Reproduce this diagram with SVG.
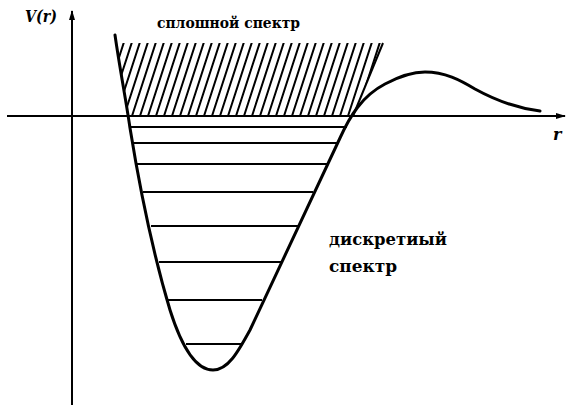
<svg xmlns="http://www.w3.org/2000/svg" width="567" height="411" viewBox="0 0 567 411">
<style>
.axis{stroke:#000;stroke-width:2;fill:none}
.curve{stroke:#000;stroke-width:3;fill:none;stroke-linejoin:round;stroke-linecap:round}
.level{stroke:#000;stroke-width:2;fill:none}
.hatch{stroke:#000;stroke-width:2;fill:none}
.lbl{font-family:"DejaVu Serif","Liberation Serif",serif;font-weight:bold;fill:#000}
.it{font-style:italic}
</style>
<defs>
<marker id="arr" markerWidth="10" markerHeight="8" refX="9" refY="4" orient="auto" markerUnits="userSpaceOnUse">
<path d="M0,1 L10,4 L0,7 Z" fill="#000"/>
</marker>
<clipPath id="hclip"><path d="M116,43 L383,43 L353,116 L128,116 Z"/></clipPath>
</defs>
<rect width="567" height="411" fill="#fff"/>
<g id="axes">
<line class="axis" x1="72" y1="405" x2="72" y2="11" marker-end="url(#arr)"/>
<line class="axis" x1="7" y1="116" x2="565" y2="116" marker-end="url(#arr)"/>
</g>
<g id="continuum">
<g clip-path="url(#hclip)">
<path class="hatch" d="M100,116 l24,-74 M108,116 l24,-74 M116,116 l24,-74 M124,116 l24,-74 M132,116 l24,-74 M140,116 l24,-74 M148,116 l24,-74 M156,116 l24,-74 M164,116 l24,-74 M172,116 l24,-74 M180,116 l24,-74 M188,116 l24,-74 M196,116 l24,-74 M204,116 l24,-74 M212,116 l24,-74 M220,116 l24,-74 M228,116 l24,-74 M236,116 l24,-74 M244,116 l24,-74 M252,116 l24,-74 M260,116 l24,-74 M268,116 l24,-74 M276,116 l24,-74 M284,116 l24,-74 M292,116 l24,-74 M300,116 l24,-74 M308,116 l24,-74 M316,116 l24,-74 M324,116 l24,-74 M332,116 l24,-74 M340,116 l24,-74 M348,116 l24,-74 M356,116 l24,-74 M364,116 l24,-74"/>
</g>
<line class="hatch" x1="353" y1="116" x2="383" y2="43"/>
</g>
<g id="levels">
<line class="level" x1="130" y1="127" x2="347" y2="127"/>
<line class="level" x1="133" y1="143" x2="339" y2="143"/>
<line class="level" x1="137" y1="164" x2="328" y2="164"/>
<line class="level" x1="143" y1="192" x2="313" y2="192"/>
<line class="level" x1="151" y1="226" x2="298" y2="226"/>
<line class="level" x1="159" y1="262" x2="281" y2="262"/>
<line class="level" x1="168" y1="300" x2="262" y2="300"/>
<line class="level" x1="186" y1="344" x2="242" y2="344"/>
</g>
<g id="potential">
<path class="curve" d="M115,35 C120,70 126,100 130,128 C140,190 155,260 170,310 C182,348 196,370 213,370 C228,370 238,352 250,330 L340,138 C350,116 362,96 385,84 C400,76 412,72 425,72 C445,72 460,80 475,89 C495,100 515,108 540,111"/>
</g>
<g id="labels">
<text class="lbl it" x="25" y="22" font-size="16" textLength="32" lengthAdjust="spacingAndGlyphs">V(r)</text>
<text class="lbl" x="157" y="28" font-size="15" textLength="143" lengthAdjust="spacingAndGlyphs">сплошной спектр</text>
<text class="lbl" x="329" y="245" font-size="16" textLength="118" lengthAdjust="spacingAndGlyphs">дискретиый</text>
<text class="lbl" x="329" y="272" font-size="16" textLength="68" lengthAdjust="spacingAndGlyphs">спектр</text>
<text class="lbl it" x="553" y="140" font-size="16">r</text>
</g>
</svg>
